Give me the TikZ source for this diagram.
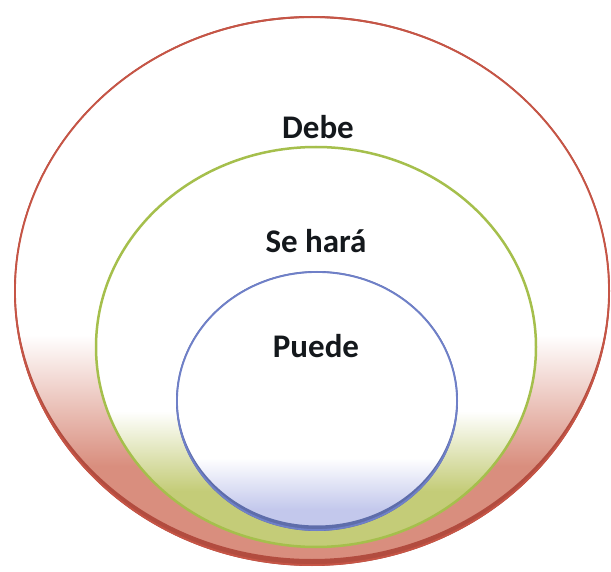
\documentclass[tikz,border=0pt]{standalone}
\usepackage{fontspec}
\setmainfont{Carlito}
\usepackage{xcolor}
\usepackage{tikz}
\definecolor{rimred}{HTML}{C65546}
\definecolor{salmon}{HTML}{D98E7E}
\definecolor{rimgreen}{HTML}{A5BF4C}
\definecolor{olive}{HTML}{C4CC78}
\definecolor{rimblue}{HTML}{6F80C8}
\definecolor{haze}{HTML}{C3C8EC}
\definecolor{ink}{HTML}{14181C}
\pgfdeclareverticalshading{debefade}{100bp}{color(0bp)=(salmon); color(34bp)=(salmon); color(46bp)=(white); color(100bp)=(white)}
\pgfdeclareverticalshading{harafade}{100bp}{color(0bp)=(olive); color(32bp)=(olive); color(42bp)=(white); color(100bp)=(white)}
\pgfdeclareverticalshading{puedefade}{100bp}{color(0bp)=(haze); color(29bp)=(haze); color(39bp)=(white); color(100bp)=(white)}

\begin{document}
\begin{tikzpicture}[x=1pt,y=-1pt,
   settext/.style={font=\fontsize{33}{36}\selectfont\bfseries,text=ink,inner sep=0pt},
   ring/.style={line width=1.8pt}]
 \useasboundingbox (0,0) rectangle (611,572);
 % outer set
 \shade[shading=debefade] (312,291) ellipse [x radius=297,y radius=274];
 \fill[rimred!90!black,even odd rule] (312,291) ellipse [x radius=298,y radius=275]
   (312,288.5) ellipse [x radius=296.5,y radius=270.5];
 \draw[ring,draw=rimred] (312,291) ellipse [x radius=297,y radius=274];
 % middle set
 \shade[shading=harafade] (316,347) ellipse [x radius=220,y radius=200];
 \draw[ring,line width=2.5pt,draw=rimgreen] (316,347) ellipse [x radius=220,y radius=200];
 % inner set
 \shade[shading=puedefade] (317,401) ellipse [x radius=140,y radius=129];
 \fill[rimblue!85!black,even odd rule] (317,401) ellipse [x radius=141,y radius=130]
   (317,399) ellipse [x radius=139.5,y radius=126.5];
 \draw[ring,draw=rimblue] (317,401) ellipse [x radius=140,y radius=129];
 \node[settext] (debe) at (318,127) {Debe};
 \node[settext] (hara) at (316,241) {Se hará};
 \node[settext] (puede) at (316,346) {Puede};
\end{tikzpicture}
\end{document}
